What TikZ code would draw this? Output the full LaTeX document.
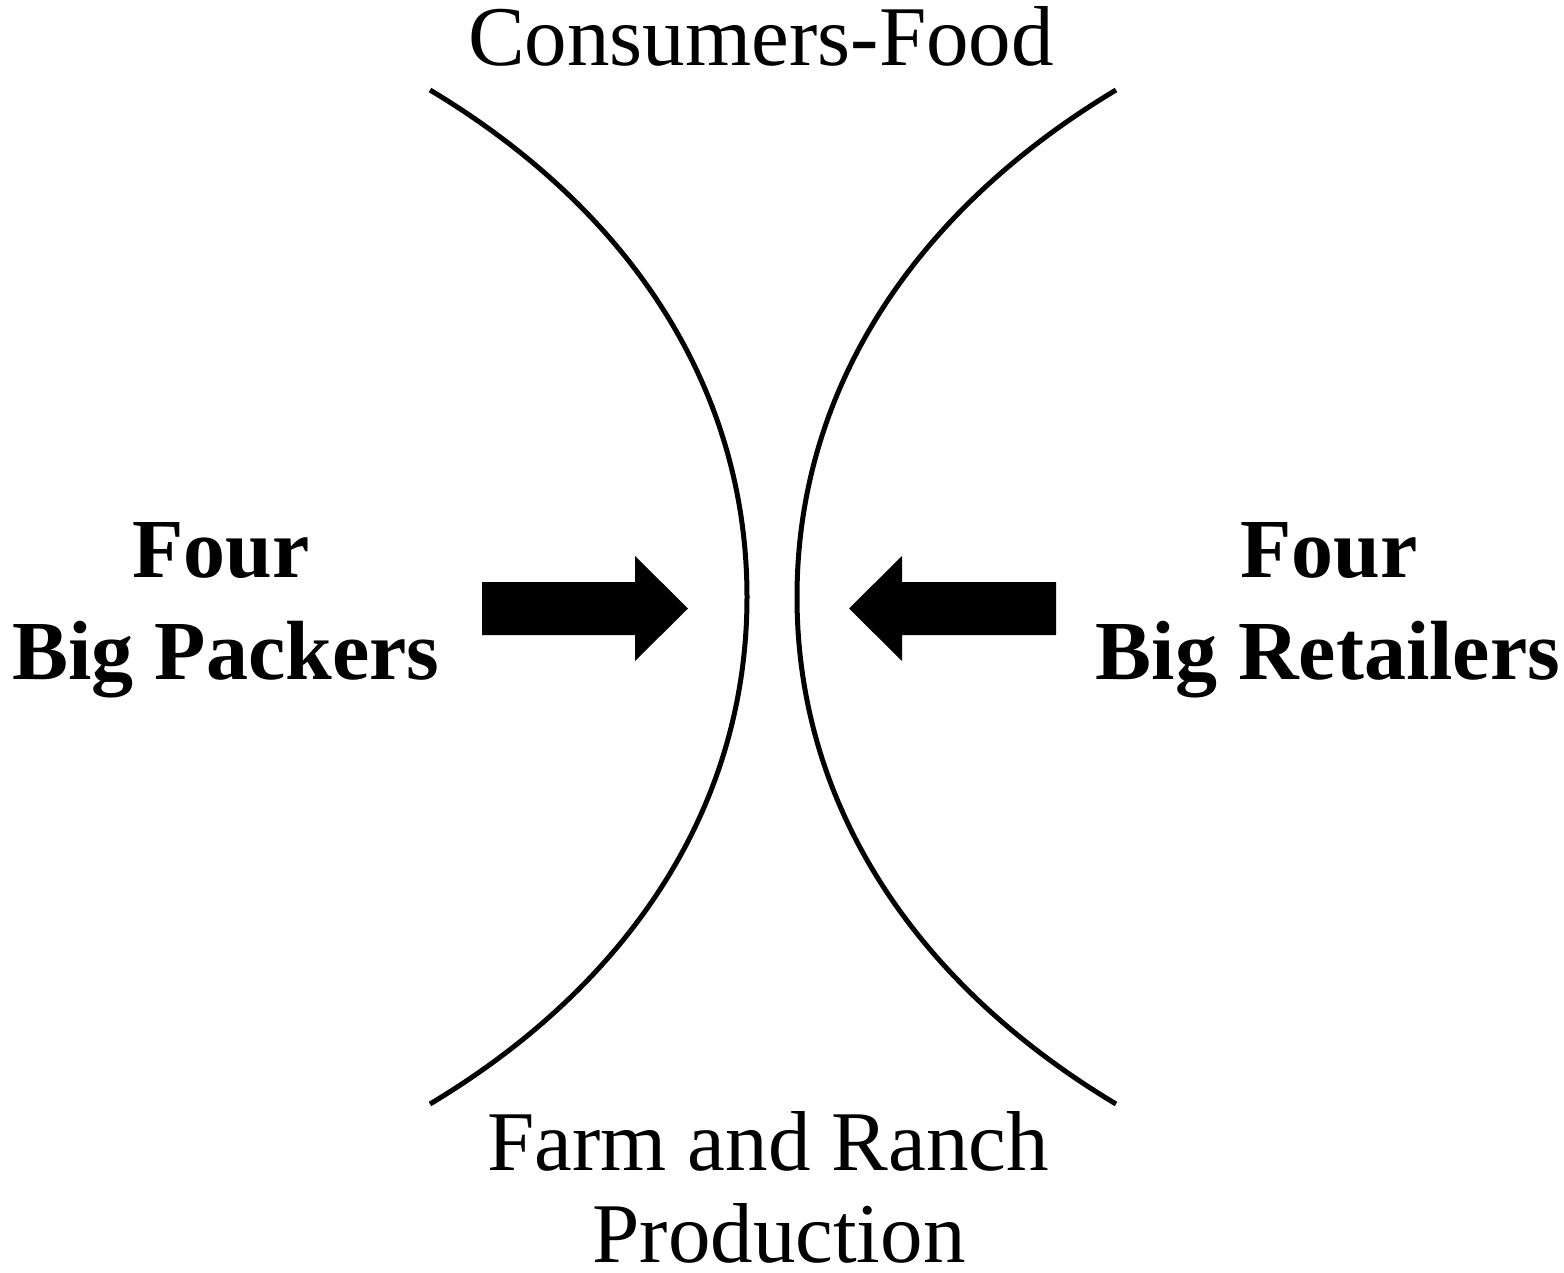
\documentclass[tikz,border=0pt]{standalone}
\usepackage{fontspec}
\setmainfont{Liberation Serif}
\begin{document}
\begin{tikzpicture}[x=1pt,y=-1pt,
  lbl/.style={inner sep=0pt,anchor=base,font=\fontsize{85}{95}\selectfont},
  side/.style={inner sep=0pt,anchor=base,font=\fontsize{84}{103}\selectfont\bfseries},
  curve/.style={line width=5pt,draw=black},
  blockarrow/.style={fill=black}]
\useasboundingbox (0,0) rectangle (1564,1273);
% labels
\node[lbl] (top) at (761,66) {Consumers-Food};
\node[lbl] (bot1) at (768,1170) {Farm and Ranch};
\node[lbl] (bot2) at (779,1262) {Production};
\node[side] (lf) at (221,577) {Four};
\node[side] (lb) at (226,679) {Big Packers};
\node[side] (rf) at (1329,577) {Four};
\node[side] (rb) at (1328,679) {Big Retailers};
% curves
\coordinate (ltop) at (430,90);
\coordinate (lmid) at (747,597);
\coordinate (lbot) at (430,1104);
\coordinate (rtop) at (1116,90);
\coordinate (rmid) at (797,597);
\coordinate (rbot) at (1116,1104);
\draw[curve] (ltop) .. controls (627,208) and (747,385) .. (lmid)
  .. controls (747,809) and (627,986) .. (lbot);
\draw[curve] (rtop) .. controls (919,208) and (797,385) .. (rmid)
  .. controls (797,809) and (919,986) .. (rbot);
% block arrows
\fill[blockarrow] (482,582) -- (635,582) -- (635,556) -- (688,608.5)
  -- (635,661) -- (635,635) -- (482,635) -- cycle;
\fill[blockarrow] (1056,582) -- (902,582) -- (902,556) -- (849,608.5)
  -- (902,661) -- (902,635) -- (1056,635) -- cycle;
\end{tikzpicture}
\end{document}
